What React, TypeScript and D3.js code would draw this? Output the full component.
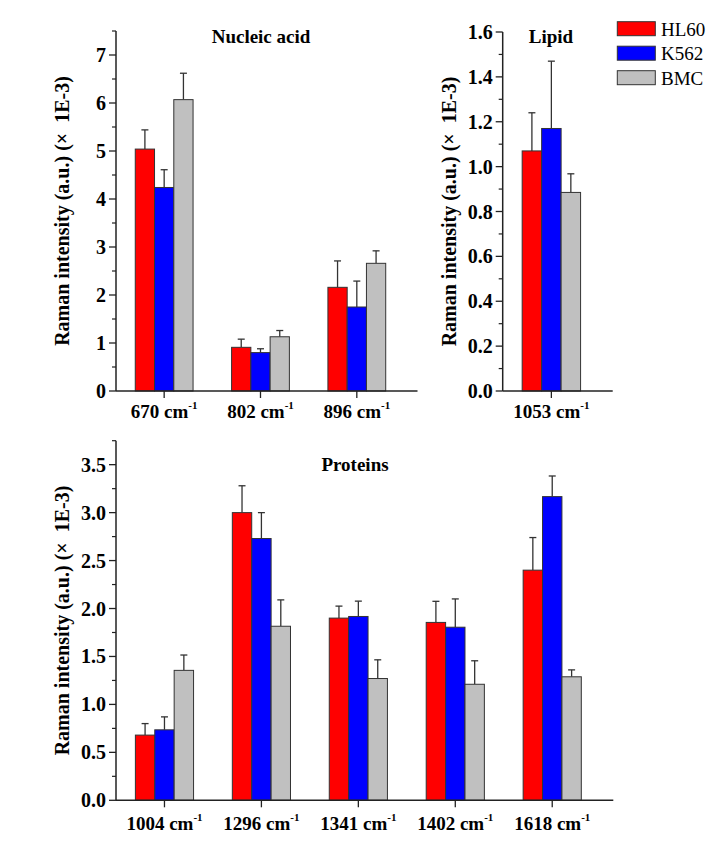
import React from 'react';
import * as d3 from 'd3';

const seriesNames = ['HL60', 'K562', 'BMC'];
const seriesColors = ['#ff0000', '#0000ff', '#c0c0c0'];

const nucleicCats = ['670', '802', '896'];
const nucleicHL60 = [5.04, 0.91, 2.16];
const nucleicK562 = [4.24, 0.8, 1.75];
const nucleicBMC = [6.07, 1.13, 2.66];
const nucleicHL60Err = [0.4, 0.17, 0.55];
const nucleicK562Err = [0.37, 0.08, 0.54];
const nucleicBMCErr = [0.55, 0.13, 0.26];

const lipidCats = ['1053'];
const lipidHL60 = [1.07];
const lipidK562 = [1.17];
const lipidBMC = [0.885];
const lipidHL60Err = [0.17];
const lipidK562Err = [0.3];
const lipidBMCErr = [0.083];

const proteinCats = ['1004', '1296', '1341', '1402', '1618'];
const proteinHL60 = [0.68, 3.0, 1.9, 1.855, 2.4];
const proteinK562 = [0.735, 2.73, 1.917, 1.805, 3.167];
const proteinBMC = [1.355, 1.815, 1.27, 1.21, 1.288];
const proteinHL60Err = [0.12, 0.28, 0.125, 0.22, 0.34];
const proteinK562Err = [0.135, 0.27, 0.16, 0.295, 0.215];
const proteinBMCErr = [0.16, 0.275, 0.195, 0.245, 0.072];

const nucleicTicks = [0, 1, 2, 3, 4, 5, 6, 7];
const lipidTicks = [0, 0.2, 0.4, 0.6, 0.8, 1.0, 1.2, 1.4, 1.6];
const proteinTicks = [0, 0.5, 1.0, 1.5, 2.0, 2.5, 3.0, 3.5];

const FONT = '"Liberation Serif", "Times New Roman", serif';
const AXIS = '#222';
const EDGE = '#333';

type PanelProps = {
  cats: string[];
  values: number[][];
  errs: number[][];
  xLeft: number;
  xRight: number;
  yZero: number;
  yTop: number;
  yMax: number;
  ticks: number[];
  minorStep: number;
  fmt: (v: number) => string;
  title: string;
  titleX: number;
  titleY: number;
  axisTitleX: number;
  xLabelY: number;
};

function Panel(p: PanelProps) {
  const n = p.cats.length;
  const x = d3.scaleLinear().domain([0.5, n + 0.63]).range([p.xLeft, p.xRight]);
  const y = d3.scaleLinear().domain([0, p.yMax]).range([p.yZero, p.yTop]);
  const minor = d3.range(0, p.yMax + 1e-9, p.minorStep).filter(
    (v) => !p.ticks.some((t) => Math.abs(t - v) < 1e-9)
  );
  const barW = 0.2;
  const capHalf = 3.5;
  return (
    <g>
      {p.cats.map((c, ci) =>
        p.values.map((vals, si) => {
          const x0 = x(ci + 1 - 0.3 + si * barW);
          const x1 = x(ci + 1 - 0.3 + (si + 1) * barW);
          const xc = (x0 + x1) / 2;
          const v = vals[ci];
          const e = p.errs[si][ci];
          return (
            <g key={c + si}>
              <line x1={xc} x2={xc} y1={y(v)} y2={y(v + e)} stroke={EDGE} strokeWidth={1.3} />
              <line x1={xc - capHalf} x2={xc + capHalf} y1={y(v + e)} y2={y(v + e)} stroke={EDGE} strokeWidth={1.3} />
              <rect x={x0} y={y(v)} width={x1 - x0} height={y(0) - y(v)} fill={seriesColors[si]} stroke={EDGE} strokeWidth={1} />
            </g>
          );
        })
      )}
      {/* axes */}
      <line x1={p.xLeft} x2={p.xLeft} y1={p.yTop} y2={p.yZero} stroke={AXIS} strokeWidth={1.5} />
      <line x1={p.xLeft} x2={p.xRight} y1={p.yZero} y2={p.yZero} stroke={AXIS} strokeWidth={1.5} />
      {p.ticks.map((t) => (
        <g key={'t' + t}>
          <line x1={p.xLeft - 7} x2={p.xLeft} y1={y(t)} y2={y(t)} stroke={AXIS} strokeWidth={1.3} />
          <text x={p.xLeft - 10} y={y(t)} dy="0.35em" textAnchor="end" fontFamily={FONT} fontWeight="bold" fontSize={20} fill="#000">
            {p.fmt(t)}
          </text>
        </g>
      ))}
      {minor.map((t) => (
        <line key={'m' + t} x1={p.xLeft - 4} x2={p.xLeft} y1={y(t)} y2={y(t)} stroke={AXIS} strokeWidth={1.2} />
      ))}
      {p.cats.map((c, ci) => (
        <g key={'x' + c}>
          <line x1={x(ci + 1)} x2={x(ci + 1)} y1={p.yZero} y2={p.yZero + 7} stroke={AXIS} strokeWidth={1.3} />
          <text x={x(ci + 1)} y={p.xLabelY} textAnchor="middle" fontFamily={FONT} fontWeight="bold" fontSize={19} fill="#000">
            {c + ' cm'}
            <tspan fontSize={11} dy={-9}>-1</tspan>
          </text>
        </g>
      ))}
      <text x={p.titleX} y={p.titleY} textAnchor="middle" fontFamily={FONT} fontWeight="bold" fontSize={19} fill="#000">
        {p.title}
      </text>
      <text
        transform={`translate(${p.axisTitleX},${(p.yTop + p.yZero) / 2}) rotate(-90)`}
        textAnchor="middle"
        dy="0.35em"
        fontFamily={FONT}
        fontWeight="bold"
        fontSize={20}
        fill="#000"
        style={{ whiteSpace: 'pre' }}
      >
        {'Raman intensity (a.u.) (×  1E-3)'}
      </text>
    </g>
  );
}

export default function App() {
  const fmt0 = (v: number) => d3.format('d')(v);
  const fmt1 = (v: number) => d3.format('.1f')(v);
  return (
    <div style={{ position: 'absolute', left: 0, top: 0 }}>
      <svg width={714} height={843} style={{ display: 'block', background: '#fff' }}>
        <rect width={714} height={843} fill="#fff" />
        <Panel
          cats={nucleicCats}
          values={[nucleicHL60, nucleicK562, nucleicBMC]}
          errs={[nucleicHL60Err, nucleicK562Err, nucleicBMCErr]}
          xLeft={116}
          xRight={417.5}
          yZero={391}
          yTop={31}
          yMax={7.5}
          ticks={nucleicTicks}
          minorStep={0.5}
          fmt={fmt0}
          title="Nucleic acid"
          titleX={261}
          titleY={43}
          axisTitleX={62}
          xLabelY={418}
        />
        <Panel
          cats={lipidCats}
          values={[lipidHL60, lipidK562, lipidBMC]}
          errs={[lipidHL60Err, lipidK562Err, lipidBMCErr]}
          xLeft={502.7}
          xRight={612.7}
          yZero={391}
          yTop={32}
          yMax={1.6}
          ticks={lipidTicks}
          minorStep={0.1}
          fmt={fmt1}
          title="Lipid"
          titleX={551}
          titleY={43}
          axisTitleX={449}
          xLabelY={418}
        />
        <Panel
          cats={proteinCats}
          values={[proteinHL60, proteinK562, proteinBMC]}
          errs={[proteinHL60Err, proteinK562Err, proteinBMCErr]}
          xLeft={116}
          xRight={613.3}
          yZero={800.3}
          yTop={440.7}
          yMax={3.75}
          ticks={proteinTicks}
          minorStep={0.25}
          fmt={fmt1}
          title="Proteins"
          titleX={355}
          titleY={471}
          axisTitleX={62}
          xLabelY={830}
        />
        {seriesNames.map((s, i) => (
          <g key={s}>
            <rect x={617.3} y={21.7 + i * 24.5} width={38} height={14} fill={seriesColors[i]} stroke={EDGE} strokeWidth={1} />
            <text x={661} y={35.5 + i * 24.5} fontFamily={FONT} fontSize={19} fill="#000">
              {s}
            </text>
          </g>
        ))}
      </svg>
    </div>
  );
}
